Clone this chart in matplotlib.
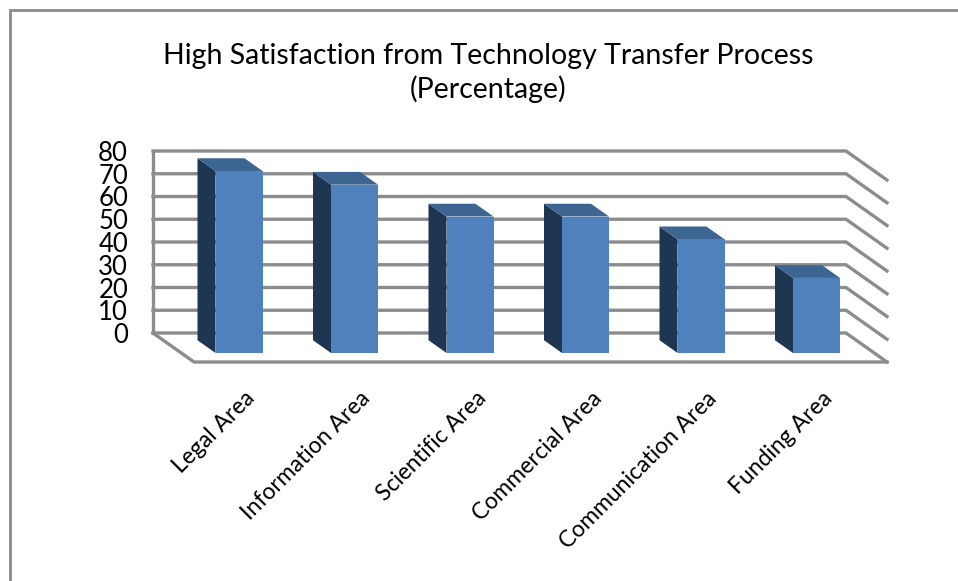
import matplotlib
matplotlib.use("Agg")
import matplotlib.pyplot as plt
from matplotlib.patches import Polygon, Rectangle

# Data
categories = ["Legal Area", "Information Area", "Scientific Area",
              "Commercial Area", "Communication Area", "Funding Area"]
values = [80, 74, 60, 60, 50, 33]
yticks = [0, 10, 20, 30, 40, 50, 60, 70, 80]

plt.rcParams['font.family'] = ['Lato', 'DejaVu Sans']

W, H = 958, 581
fig = plt.figure(figsize=(W / 100, H / 100), dpi=100)

# back wall of the 3D box, in pixels
left_px, right_px, top_px, base_px = 153, 846, 151, 333
ax = fig.add_axes([left_px / W, (H - base_px) / H,
                   (right_px - left_px) / W, (base_px - top_px) / H])
ax.set_xlim(-0.5, len(categories) - 0.5)
ax.set_ylim(0, 80)

# oblique depth vector of the floor (data units)
px_x = (right_px - left_px) / len(categories)
px_y = (base_px - top_px) / 80
depth_dx = 41 / px_x
depth_dy = -29 / px_y

grid_col = '#8c8c8c'
for v in yticks:
    ax.plot([-0.5, 5.5, 5.5 + depth_dx], [v, v, v + depth_dy],
            color=grid_col, lw=2.4, clip_on=False, zorder=1,
            solid_joinstyle='miter')
# left wall edge and floor
ax.plot([-0.5, -0.5], [0, 80], color=grid_col, lw=2.4, clip_on=False, zorder=1)
ax.plot([-0.5, -0.5 + depth_dx, 5.5 + depth_dx],
        [0, depth_dy, depth_dy], color=grid_col, lw=2.4, clip_on=False, zorder=1)

# bars: front face at depth f1, back at depth f0
f0, f1 = 0.25, 0.69
bw = 47 / px_x
front_col, side_col, top_col = '#4f81bd', '#1f3652', '#3c6592'
for i, val in enumerate(values):
    xc = i + f1 * depth_dx
    yb = f1 * depth_dy
    ax.bar(xc, val, width=bw, bottom=yb, color=front_col, zorder=3, clip_on=False)
    x0 = xc - bw / 2
    x1 = xc + bw / 2
    bx = (f0 - f1) * depth_dx
    by = (f0 - f1) * depth_dy
    side = Polygon([(x0, yb), (x0, yb + val), (x0 + bx, yb + val + by), (x0 + bx, yb + by)],
                   closed=True, facecolor=side_col, edgecolor='none', zorder=2, clip_on=False)
    top = Polygon([(x0, yb + val), (x1, yb + val), (x1 + bx, yb + val + by), (x0 + bx, yb + val + by)],
                  closed=True, facecolor=top_col, edgecolor='none', zorder=2, clip_on=False)
    ax.add_patch(side)
    ax.add_patch(top)
    ax.text(i + 0.29, -24, categories[i], rotation=45, rotation_mode='anchor',
            ha='right', va='top', fontsize=16.5, color='black')

ax.set_yticks(yticks)
ax.set_yticklabels([str(t) for t in yticks], fontsize=18.5)
ax.tick_params(axis='y', length=0, pad=18)
ax.set_xticks([])
for s in ax.spines.values():
    s.set_visible(False)
ax.patch.set_alpha(0)

# title
fig.text(488 / W, 1 - 73 / H, "High Satisfaction from Technology Transfer Process\n(Percentage)",
         ha='center', va='center', fontsize=20.5, linespacing=1.3)

# outer chart border (only top and left are visible in the crop)
fig.patches.append(Rectangle((10 / W, -0.1), 1.2, (H - 10) / H + 0.1, transform=fig.transFigure,
                             fill=False, edgecolor='#8a8a8a', lw=2, zorder=0))

fig.savefig('out.png', dpi=100)
